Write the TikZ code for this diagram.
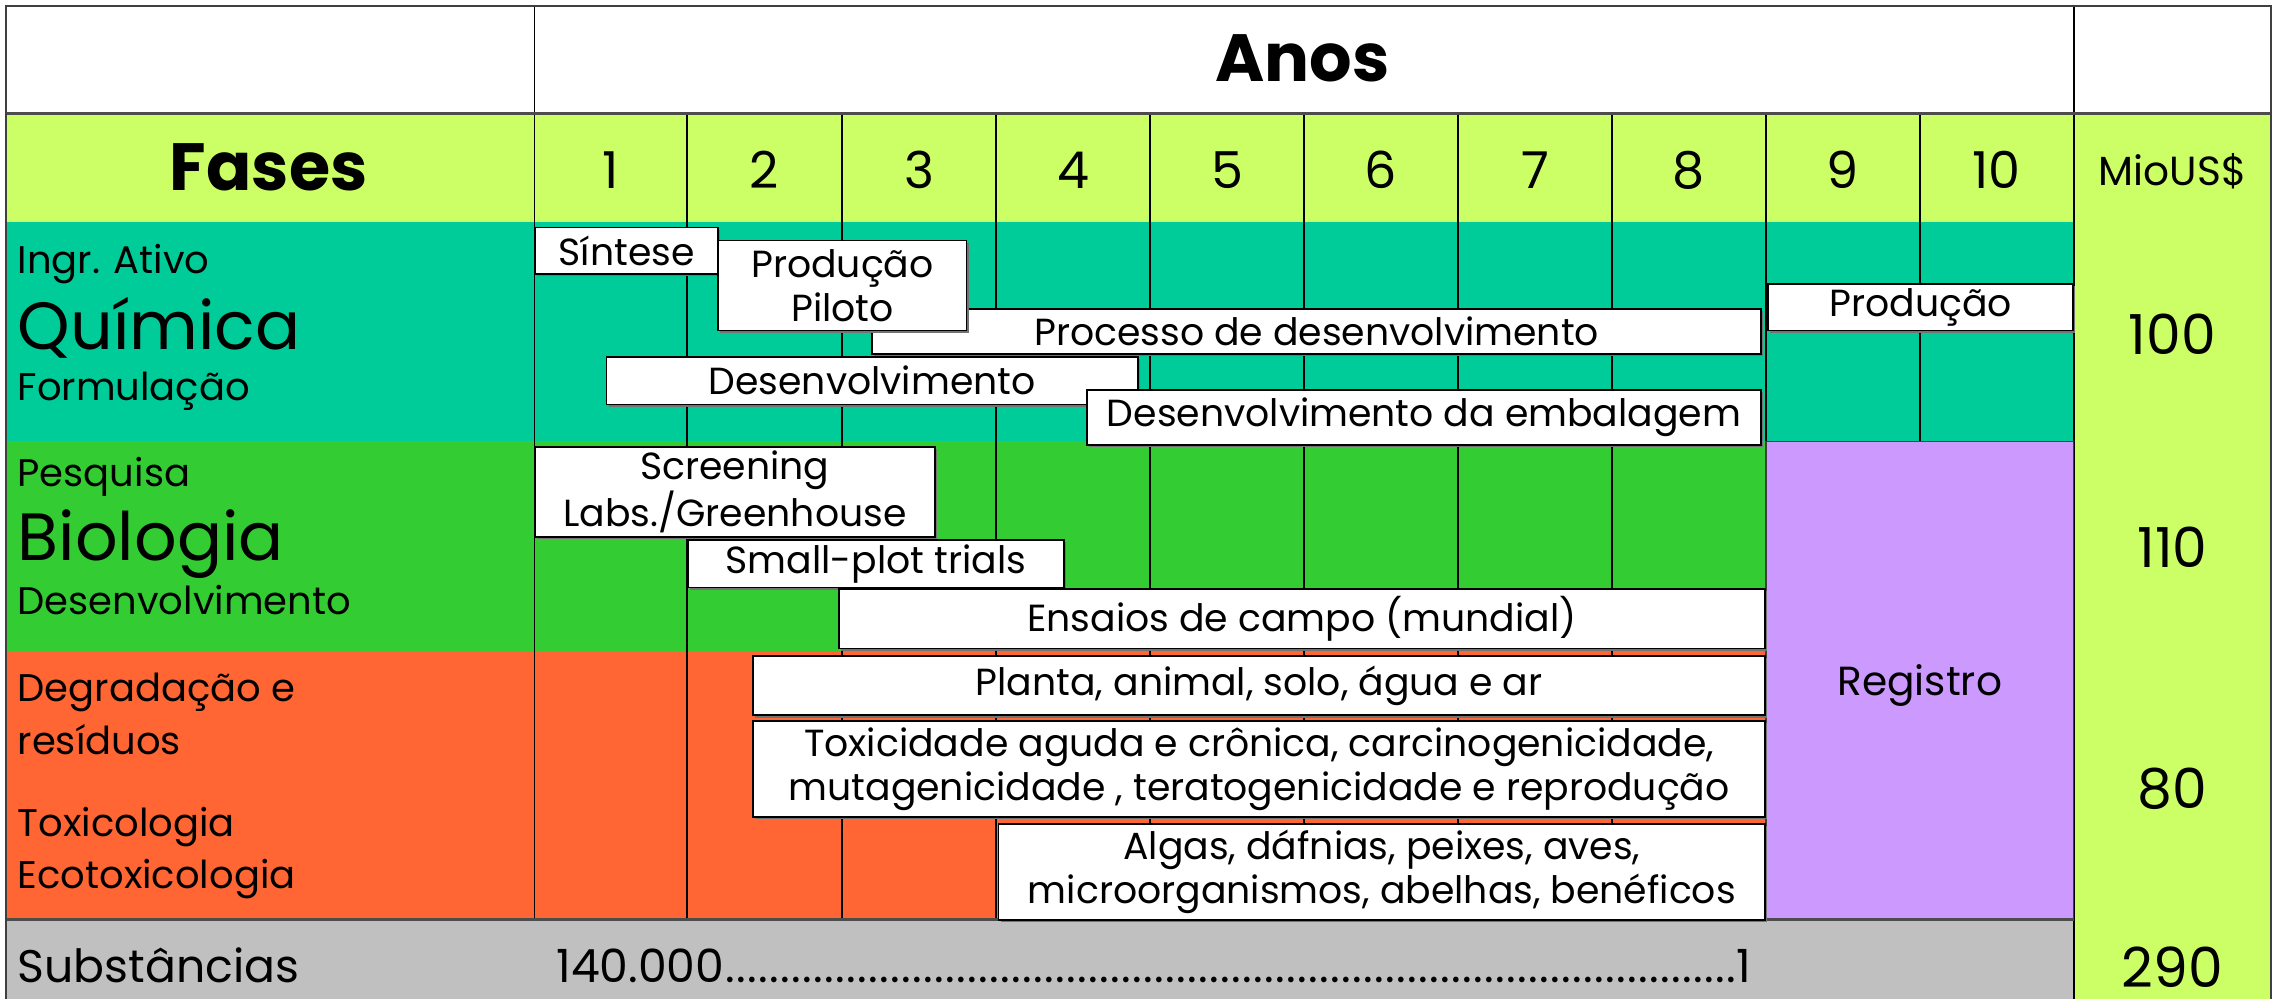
\documentclass[tikz,border=0pt]{standalone}
\usepackage{fontspec}
\setmainfont{Poppins}
\usetikzlibrary{shadows}
\definecolor{limec}{RGB}{204,255,102}
\definecolor{chemc}{RGB}{0,204,153}
\definecolor{bioc}{RGB}{51,204,51}
\definecolor{redc}{RGB}{255,102,51}
\definecolor{purc}{RGB}{204,153,255}
\definecolor{grayc}{RGB}{192,192,192}
\newcommand\fsz[2]{\fontsize{#1}{#2}\selectfont}
\newcommand\mydots{\xleaders\hbox to 7.5pt{\hss.\hss}\hfill}
\tikzset{
  wbox/.style={draw=black, fill=white, line width=1.2pt, inner sep=0pt, align=center,
    font=\fsz{26}{30.5}, anchor=north west,
    drop shadow={shadow xshift=1.5pt, shadow yshift=-1.5pt, fill=black!55, opacity=1}},
  gridline/.style={draw=black, line width=1.1pt},
  lbl/.style={anchor=base west, inner sep=0pt, font=\fsz{26.5}{30}},
  biglbl/.style={anchor=base west, inner sep=0pt, font=\fsz{46}{50}},
  val/.style={anchor=base, inner sep=0pt, text depth=0pt, font=\fsz{38}{40}},
  yr/.style={anchor=base, inner sep=0pt, font=\fsz{35}{40}},
  head/.style={anchor=base, inner sep=0pt, font=\fsz{46}{50}\bfseries},
}
\newcommand\wbox[6]{\node[wbox, minimum width={(#4-#2)*1pt}, minimum height={(#5-#3)*1pt}] (#1) at (#2,#3) {#6};}
\begin{document}
\begin{tikzpicture}[x=1pt,y=-1pt]
\useasboundingbox (0,0) rectangle (1568,688);
% backgrounds
\fill[white] (4,4) rectangle (1564,78);
\fill[limec] (4,78) rectangle (1564,153);
\fill[limec] (1428,153) rectangle (1564,688);
\fill[chemc] (4,153) rectangle (1428,304);
\fill[bioc] (4,304) rectangle (1216,449);
\fill[redc] (4,449) rectangle (1216,633);
\fill[purc] (1216,304) rectangle (1428,633);
\fill[grayc] (4,633) rectangle (1428,688);
% grid lines
\foreach \x in {473,580,686,792,898,1004,1110,1216}{\draw[gridline] (\x,78) -- (\x,633);}
\draw[gridline] (1322,78) -- (1322,304);
\draw[gridline] (368,4) -- (368,633);
\draw[gridline] (1428,4) -- (1428,688);
\draw[draw=black!75, line width=1pt] (1216,304) rectangle (1428,633);
\draw[draw=black!70, line width=2pt] (4,78) -- (1564,78);
\draw[draw=black!70, line width=2pt] (4,633) -- (1428,633);
\draw[draw=black!75, line width=1.5pt] (4,688) -- (4,4) -- (1564,4) -- (1564,688);
% chemistry boxes
\wbox{sint}{368}{156}{494}{188}{Síntese}
\wbox{proc}{600}{212}{1212}{243}{Processo de desenvolvimento}
\wbox{prodp}{494}{165}{665}{227}{Produção\\Piloto}
\wbox{desf}{417}{245}{783}{278}{Desenvolvimento}
\wbox{emb}{748}{268}{1212}{306}{Desenvolvimento da embalagem}
\wbox{prod}{1217}{195}{1427}{227}{Produção}
% biology boxes
\wbox{scr}{368}{307}{643}{369}{Screening\\Labs./Greenhouse}
\wbox{small}{473}{371}{732}{404}{Small-plot trials}
\wbox{ens}{577}{405}{1215}{446}{Ensaios de campo (mundial)}
% red boxes
\wbox{plan}{518}{451}{1215}{492}{Planta, animal, solo, água e ar}
\wbox{tox}{518}{496}{1215}{562}{Toxicidade aguda e crônica, carcinogenicidade,\\mutagenicidade , teratogenicidade e reprodução}
\wbox{alg}{687}{567}{1215}{633}{Algas, dáfnias, peixes, aves,\\microorganismos, abelhas, benéficos}
% header texts
\node[head] (anos) at (897,56) {Anos};
\node[head] (fases) at (185,131) {Fases};
\foreach \i/\x in {1/420.5,2/526.5,3/633,4/739,5/845,6/951,7/1057,8/1163,9/1269,10/1375}{
  \node[yr] (y\i) at (\x,130) {\i};}
\node[anchor=base, inner sep=0pt, font=\fsz{28}{30}] (mio) at (1496,128) {MioUS\$};
% left labels
\node[lbl] (ingr) at (12,188) {Ingr. Ativo};
\node[biglbl] (quim) at (12,241) {Química};
\node[lbl] (form) at (12,276) {Formulação};
\node[lbl] (pesq) at (12,335) {Pesquisa};
\node[biglbl] (biol) at (12,386) {Biologia};
\node[lbl] (desb) at (12,423) {Desenvolvimento};
\node[lbl] (degr) at (12,483) {Degradação e};
\node[lbl] (resi) at (12,519.5) {resíduos};
\node[lbl] (toxl) at (12,576) {Toxicologia};
\node[lbl] (ecot) at (12,612) {Ecotoxicologia};
\node[anchor=base west, inner sep=0pt, text depth=0pt, font=\fsz{31.5}{34}] (subs) at (12,676.5) {Substâncias};
\node[anchor=base west, inner sep=0pt, text depth=0pt, font=\fsz{31.5}{34}] (cnt) at (383,676.5) {\hbox to 823pt{140.000\mydots 1}};
% registro
\node[anchor=base, inner sep=0pt, font=\fsz{28}{30}] (reg) at (1322,479) {Registro};
% values
\node[val] (v100) at (1496,244) {100};
\node[val] (v110) at (1496,391) {110};
\node[val] (v80) at (1496,557) {80};
\node[val] (v290) at (1496,680) {290};
\end{tikzpicture}
\end{document}
